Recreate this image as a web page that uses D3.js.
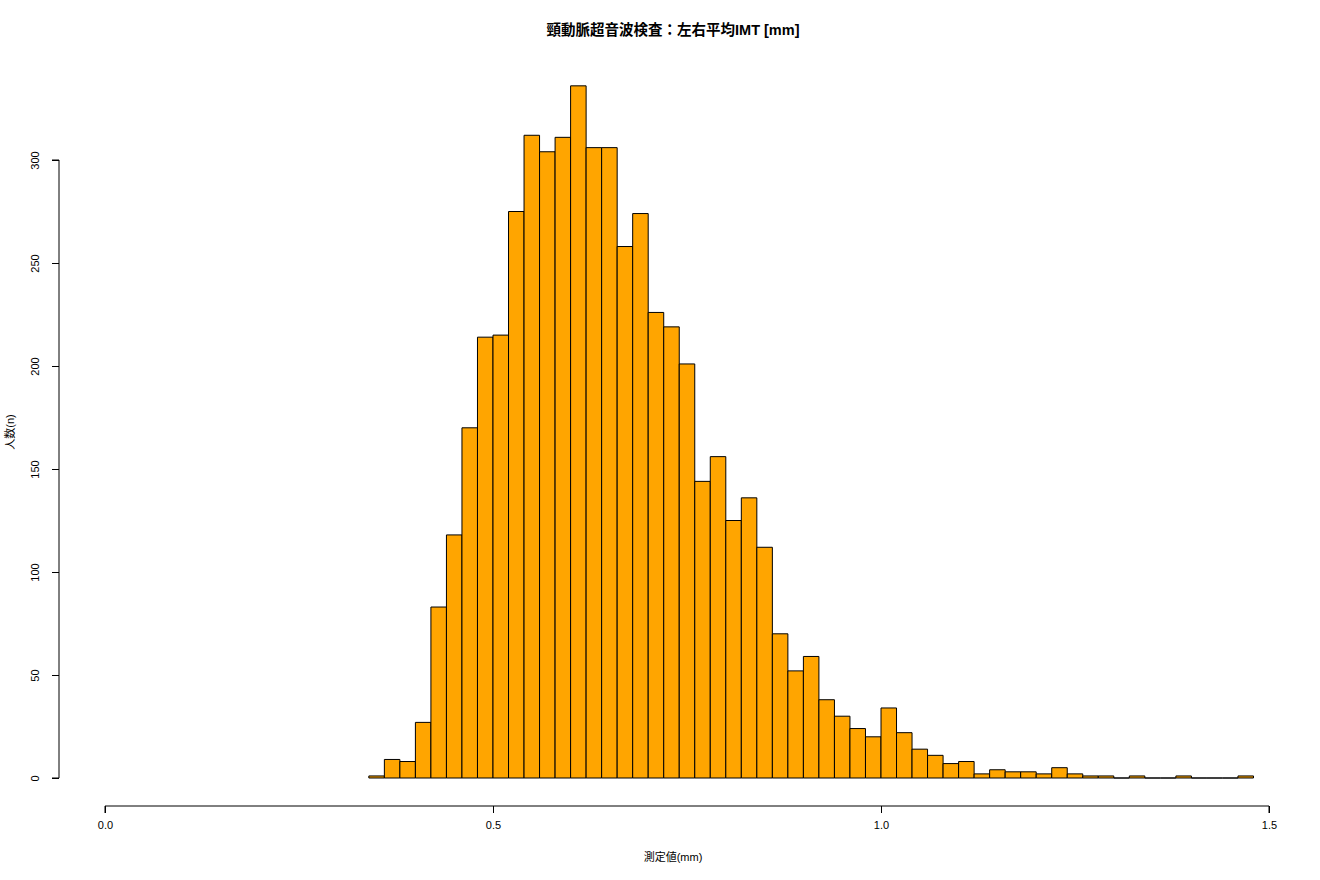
<!DOCTYPE html>
<html>
<head>
<meta charset="utf-8">
<script src="https://cdn.jsdelivr.net/npm/d3@7"></script>
<style>
  body { margin: 0; background: #fff; }
  text { font-family: "Liberation Sans", "Noto Sans CJK JP", sans-serif; }
</style>
</head>
<body>
<svg id="svg"></svg>
<script>
// bins of 0.02 mm, starting at 0.34
const binStart = 0.34
const binWidth = 0.02
const counts = [1, 9, 8, 27, 83, 118, 170, 214, 215, 275,
  312, 304, 311, 336, 306, 306, 258, 274, 226, 219,
  201, 144, 156, 125, 136, 112, 70, 52, 59, 38,
  30, 24, 20, 34, 22, 14, 11, 7, 8, 2,
  4, 3, 3, 2, 5, 2, 1, 1, 0, 1,
  0, 0, 1, 0, 0, 0, 1]
const xTicks = [0.0, 0.5, 1.0, 1.5]
const yTicks = [0, 50, 100, 150, 200, 250, 300]

const width = 1320, height = 880

const bins = counts.map((c, i) => ({
  x0: binStart + i * binWidth,
  x1: binStart + (i + 1) * binWidth,
  n: c
}))

const x = d3.scaleLinear().domain([0, 1.5]).range([105, 1269])
const y = d3.scaleLinear().domain([0, 300]).range([778, 160])

const svg = d3.select("#svg")
    .attr("width", width)
    .attr("height", height)

// paths so that empty bins still show a flat line
svg.append("g")
  .selectAll()
  .data(bins)
  .join("path")
    .attr("d", d => `M${x(d.x0)},${y(0)}V${y(d.n)}H${x(d.x1)}V${y(0)}Z`)
    .attr("fill", "#ffa500")
    .attr("stroke", "#000")
    .attr("stroke-width", 1)

// x axis
const xa = svg.append("g")
    .attr("transform", "translate(0,806)")
    .call(d3.axisBottom(x).tickValues(xTicks).tickFormat(d3.format(".1f")).tickSize(7).tickPadding(8))
xa.select(".domain").attr("d", `M${x(0)},7V0H${x(1.5)}V7`)
xa.selectAll("text").attr("font-size", 11).attr("fill", "#000")

// y axis
const ya = svg.append("g")
    .attr("transform", "translate(59,0)")
    .call(d3.axisLeft(y).tickValues(yTicks).tickSize(7).tickPadding(0))
ya.select(".domain").attr("d", `M-7,${y(0)}H0V${y(300)}H-7`)
ya.selectAll("text")
    .attr("font-size", 11)
    .attr("fill", "#000")
    .attr("text-anchor", "middle")
    .attr("transform", "rotate(-90)")
    .attr("x", 0)
    .attr("y", -24)
    .attr("dy", "0.35em")
svg.selectAll(".tick line").attr("stroke", "#000")
svg.selectAll(".domain").attr("stroke", "#000")

svg.append("text")
    .attr("x", 673)
    .attr("y", 35)
    .attr("text-anchor", "middle")
    .attr("font-size", 14.5)
    .attr("font-weight", "bold")
    .text("頸動脈超音波検査：左右平均IMT [mm]")

svg.append("text")
    .attr("x", 673)
    .attr("y", 861)
    .attr("text-anchor", "middle")
    .attr("font-size", 11)
    .text("測定値(mm)")

svg.append("text")
    .attr("transform", "translate(14,432) rotate(-90)")
    .attr("text-anchor", "middle")
    .attr("font-size", 11)
    .text("人数(n)")
</script>
</body>
</html>
